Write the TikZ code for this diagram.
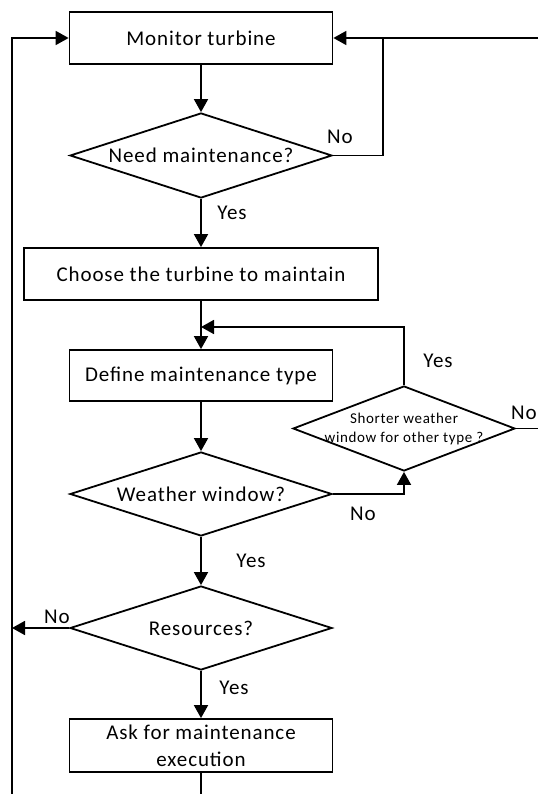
\documentclass[tikz,border=0pt]{standalone}
\usepackage{fontspec}
\setmainfont{Carlito}[LetterSpace=4.3]
\usetikzlibrary{shapes.geometric,arrows.meta,positioning}
\tikzstyle{fc-box} = [draw=black, line width=1.8pt, rectangle,
    minimum width=263pt, minimum height=52pt, inner sep=2pt,
    font=\fontsize{21}{27}\selectfont, align=center]
\tikzstyle{fc-test} = [draw=black, line width=1.8pt, diamond, aspect=3,
    inner sep=0pt, minimum width=262pt, minimum height=84pt,
    font=\fontsize{21}{27}\selectfont, align=center]
\tikzstyle{fc-arrow} = [line width=1.8pt, -{Triangle[length=13pt,width=14pt]}]
\tikzstyle{fc-line} = [line width=1.8pt]
\tikzstyle{fc-label} = [inner sep=0pt, font=\fontsize{21}{27}\selectfont]

\begin{document}
\begin{tikzpicture}[x=1pt,y=-1pt]
\useasboundingbox (0,0) rectangle (538,794);
% main column
\node [fc-box] (monitor) at (201,38) {Monitor turbine};
\node [fc-test, minimum height=85pt] (needm) at (201,155.5) {Need maintenance?};
\node [fc-box, minimum width=354pt] (choose) at (201,274) {Choose the turbine to maintain};
\node [fc-box, minimum height=51pt] (define) at (201,375.5) {Define maintenance type};
\node [fc-test] (weather) at (201,494) {Weather window?};
\node [fc-test] (resources) at (201,628) {Resources?};
\node [fc-box, minimum height=53pt] (ask) at (201,745.5) {Ask for maintenance\\execution};
% side test
\node [fc-test, minimum width=222pt, minimum height=85pt, aspect=2.6,
    inner xsep=-25pt, font=\fontsize{15}{19}\selectfont] (shorter) at (404,428.5)
    {Shorter weather\\window for other type ?};
% loop points
\coordinate (lft-bot) at (12,794);
\coordinate (rgt-top) at (538,38);
\coordinate (merge-r) at (383,38);
\coordinate (merge-d) at (201,327);

\draw [fc-arrow] (monitor) -- (needm);
\draw [fc-arrow] (needm) -- (choose);
\draw [fc-arrow] (choose) -- (define);
\draw [fc-arrow] (define) -- (weather);
\draw [fc-arrow] (weather) -- (resources);
\draw [fc-arrow] (resources) -- (ask);
\draw [fc-line] (ask.south) -- (ask.south |- lft-bot);
\draw [fc-arrow] (lft-bot) |- (monitor.west);
\draw [fc-arrow] (rgt-top) -- (monitor.east);
\draw [fc-line] (needm.east) -| (merge-r);
\draw [fc-arrow] (weather.east) -| (shorter.south);
\draw [fc-arrow] (shorter.north) |- (merge-d);
\draw [fc-line] (shorter.east) -- (shorter.east -| rgt-top);
\draw [fc-arrow] (resources.west) -- (resources.west -| lft-bot);

\node [fc-label] (no-need) at (340,137) {No};
\node [fc-label] (yes-need) at (232,213) {Yes};
\node [fc-label] (yes-short) at (438,361) {Yes};
\node [fc-label] (no-short) at (524,413) {No};
\node [fc-label] (no-weather) at (363,514) {No};
\node [fc-label] (yes-weather) at (251,561) {Yes};
\node [fc-label] (no-res) at (57,617) {No};
\node [fc-label] (yes-res) at (234,688) {Yes};
\end{tikzpicture}
\end{document}
